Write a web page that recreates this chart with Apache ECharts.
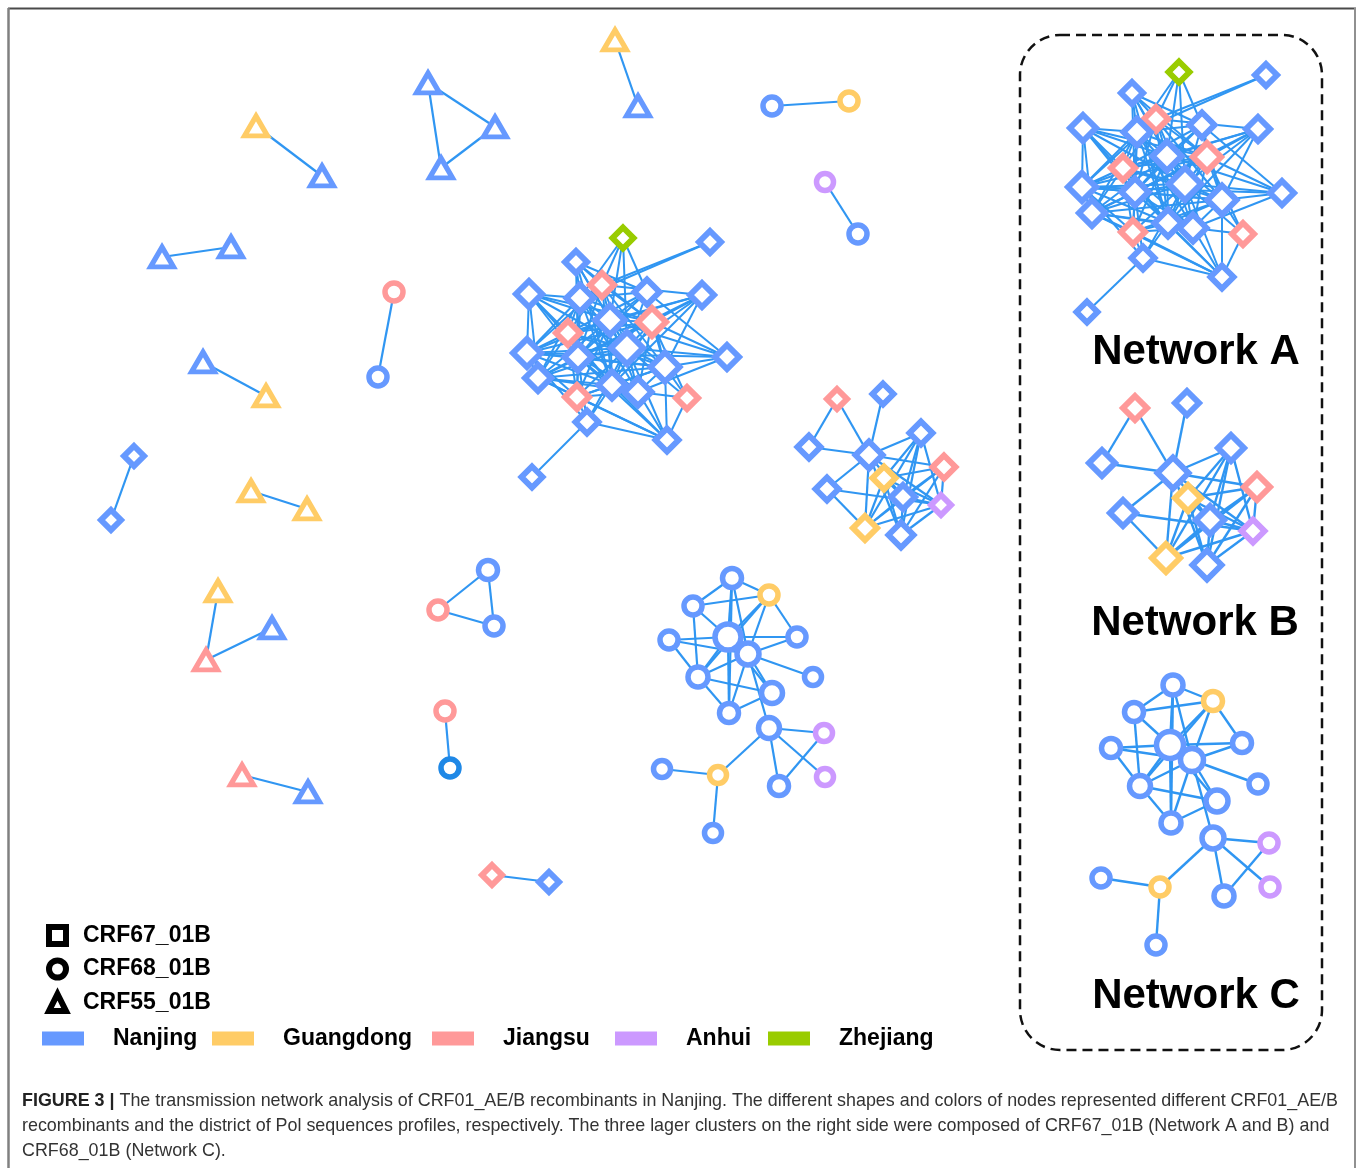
<!DOCTYPE html>
<html>
<head>
<meta charset="utf-8">
<title>Transmission networks of CRF01_AE/B recombinants in Nanjing</title>
<script src="https://cdn.jsdelivr.net/npm/echarts@6/dist/echarts.min.js"></script>
<style>
  html, body { margin: 0; padding: 0; background: #fff; }
  #chart { width: 1360px; height: 1168px; }
</style>
</head>
<body>
<div id="chart"></div>
<script>
// Districts (colour legend) and recombinant forms (shape legend)
const regions = ['Nanjing', 'Guangdong', 'Jiangsu', 'Anhui', 'Zhejiang'];
const subtypes = ['CRF67_01B', 'CRF68_01B', 'CRF55_01B'];

// Node rows: [x, y, size, region index]
// Network A (CRF67_01B), centre of the figure
const netA = [
  [623, 238, 21, 4], [710, 242, 22, 0], [576, 262, 22, 0], [602, 285, 24, 2],
  [529, 294, 26, 0], [580, 298, 27, 0], [647, 292, 25, 0], [702, 295, 24, 0],
  [610, 320, 29, 0], [652, 322, 28, 2], [568, 333, 24, 2], [527, 353, 28, 0],
  [627, 348, 32, 0], [578, 357, 27, 0], [727, 357, 24, 0], [665, 367, 29, 0],
  [538, 378, 26, 0], [612, 385, 27, 0], [638, 392, 27, 0], [577, 397, 24, 2],
  [687, 398, 22, 2], [587, 422, 23, 0], [667, 440, 23, 0], [532, 477, 21, 0]
];
// Network A, enlarged panel on the right (same node order)
const netAPanel = [
  [1179, 72, 21, 4], [1266, 75, 22, 0], [1132, 93, 22, 0], [1156, 119, 24, 2],
  [1083, 128, 26, 0], [1137, 132, 27, 0], [1202, 125, 25, 0], [1258, 129, 24, 0],
  [1167, 156, 29, 0], [1207, 157, 28, 2], [1123, 168, 24, 2], [1082, 187, 28, 0],
  [1185, 184, 32, 0], [1135, 192, 27, 0], [1282, 193, 24, 0], [1222, 200, 29, 0],
  [1092, 213, 26, 0], [1168, 223, 27, 0], [1193, 228, 27, 0], [1133, 232, 24, 2],
  [1243, 234, 22, 2], [1143, 258, 23, 0], [1222, 277, 23, 0], [1087, 312, 21, 0]
];
const netALinks = [
  [0, 5], [0, 8], [0, 12], [0, 6], [0, 3],
  [1, 3], [1, 5],
  [2, 5], [2, 8], [2, 12], [2, 9], [2, 13], [2, 17], [2, 3], [2, 6],
  [4, 11], [4, 5], [4, 10], [4, 13], [4, 12], [4, 17], [4, 8], [4, 16], [4, 9],
  [7, 9], [7, 15], [7, 12], [7, 8], [7, 10], [7, 13], [7, 3], [7, 17],
  [14, 9], [14, 15], [14, 12], [14, 8], [14, 18], [14, 6], [14, 11],
  [20, 15], [20, 12], [20, 9], [20, 18], [20, 22],
  [21, 23], [21, 22], [21, 19], [21, 17], [21, 13], [21, 11], [21, 12],
  [22, 17], [22, 18], [22, 19], [22, 13], [22, 15], [22, 12], [22, 16],
  [3, 5], [3, 8], [3, 9], [3, 10], [3, 12], [3, 13], [3, 15], [3, 17], [3, 11],
  [5, 6], [5, 8], [5, 9], [5, 10], [5, 11], [5, 12], [5, 13], [5, 16], [5, 17], [5, 18], [5, 19],
  [6, 8], [6, 9], [6, 12], [6, 15], [6, 10], [6, 13],
  [8, 9], [8, 10], [8, 11], [8, 12], [8, 13], [8, 15], [8, 16], [8, 17], [8, 18], [8, 19],
  [9, 10], [9, 12], [9, 13], [9, 15], [9, 17], [9, 18], [9, 11], [9, 16],
  [10, 11], [10, 12], [10, 13], [10, 15], [10, 16], [10, 17], [10, 18], [10, 19],
  [11, 12], [11, 13], [11, 16], [11, 17], [11, 19], [11, 15],
  [12, 13], [12, 15], [12, 16], [12, 17], [12, 18], [12, 19],
  [13, 15], [13, 16], [13, 17], [13, 18], [13, 19],
  [15, 17], [15, 18], [15, 19], [15, 16],
  [16, 17], [16, 18], [16, 19],
  [17, 18], [17, 19], [18, 19]
];

// Network B (CRF67_01B)
const netB = [
  [837, 399, 20, 2], [883, 394, 21, 0], [809, 447, 23, 0], [869, 455, 27, 0],
  [921, 433, 23, 0], [944, 467, 23, 2], [884, 478, 23, 1], [827, 489, 23, 0],
  [903, 497, 24, 0], [941, 505, 20, 3], [865, 528, 24, 1], [901, 535, 25, 0]
];
const netBPanel = [
  [1135, 408, 24, 2], [1187, 403, 24, 0], [1102, 463, 26, 0], [1173, 473, 31, 0],
  [1231, 448, 26, 0], [1257, 487, 26, 2], [1188, 498, 26, 1], [1123, 513, 26, 0],
  [1210, 520, 28, 0], [1253, 531, 23, 3], [1166, 558, 28, 1], [1207, 565, 29, 0]
];
const netBLinks = [
  [0, 2], [0, 3], [1, 3], [2, 3], [3, 4], [3, 5], [3, 7], [3, 8], [3, 10], [3, 11], [3, 9],
  [4, 6], [4, 8], [4, 9], [4, 11], [4, 10],
  [5, 10], [5, 8], [5, 9], [5, 11], [5, 6],
  [7, 9], [7, 10],
  [6, 9], [6, 11], [6, 10], [6, 8],
  [8, 10], [8, 11], [8, 9], [9, 10], [9, 11]
];

// Network C (CRF68_01B)
const netC = [
  [732, 578, 19, 0], [769, 595, 18, 1], [693, 606, 18, 0], [728, 637, 26, 0],
  [797, 637, 18, 0], [669, 640, 18, 0], [748, 654, 22, 0], [813, 677, 17, 0],
  [698, 677, 20, 0], [772, 693, 21, 0], [729, 713, 19, 0], [769, 728, 21, 0],
  [824, 733, 17, 3], [825, 777, 17, 3], [662, 769, 17, 0], [718, 775, 17, 1],
  [779, 786, 19, 0], [713, 833, 17, 0]
];
const netCPanel = [
  [1173, 685, 20, 0], [1213, 701, 19, 1], [1134, 712, 19, 0], [1170, 745, 27, 0],
  [1242, 743, 19, 0], [1111, 748, 19, 0], [1192, 760, 23, 0], [1258, 784, 18, 0],
  [1140, 786, 21, 0], [1217, 801, 22, 0], [1171, 823, 20, 0], [1213, 838, 22, 0],
  [1269, 843, 18, 3], [1270, 887, 18, 3], [1101, 878, 18, 0], [1160, 887, 18, 1],
  [1224, 896, 20, 0], [1156, 945, 18, 0]
];
const netCLinks = [
  [0, 1], [0, 2], [0, 3], [0, 6], [0, 10],
  [2, 1], [2, 8], [2, 3],
  [1, 3], [1, 6], [1, 4], [1, 8],
  [5, 3], [5, 6], [5, 8],
  [3, 4], [3, 8], [3, 6], [3, 10], [3, 9],
  [6, 4], [6, 7], [6, 8], [6, 10], [6, 9], [6, 11],
  [8, 9], [8, 10], [10, 9],
  [11, 15], [11, 12], [11, 13], [11, 16], [16, 12],
  [14, 15], [15, 17]
];

// Small clusters: [x, y, size, region index, shape]
const smallNodes = [
  [615, 40, 23, 1, 'triangle'], [638, 106, 23, 0, 'triangle'],
  [428, 83, 23, 0, 'triangle'], [495, 127, 23, 0, 'triangle'], [441, 168, 23, 0, 'triangle'],
  [256, 126, 23, 1, 'triangle'], [322, 176, 23, 0, 'triangle'],
  [162, 257, 23, 0, 'triangle'], [231, 247, 23, 0, 'triangle'],
  [203, 362, 23, 0, 'triangle'], [266, 396, 23, 1, 'triangle'],
  [251, 491, 23, 1, 'triangle'], [307, 509, 23, 1, 'triangle'],
  [218, 591, 23, 1, 'triangle'], [206, 660, 23, 2, 'triangle'], [272, 628, 23, 0, 'triangle'],
  [242, 775, 23, 2, 'triangle'], [308, 792, 23, 0, 'triangle'],
  [394, 292, 18, 2, 'circle'], [378, 377, 18, 0, 'circle'],
  [772, 106, 18, 0, 'circle'], [849, 101, 18, 1, 'circle'],
  [825, 182, 17, 3, 'circle'], [858, 234, 18, 0, 'circle'],
  [438, 610, 18, 2, 'circle'], [488, 570, 19, 0, 'circle'], [494, 626, 18, 0, 'circle'],
  [445, 711, 18, 2, 'circle'], [450, 768, 18, 5, 'circle'],
  [134, 456, 20, 0, 'diamond'], [111, 520, 20, 0, 'diamond'],
  [492, 875, 20, 2, 'diamond'], [549, 882, 20, 0, 'diamond']
];
const smallLinks = [
  [0, 1],
  [2, 3], [2, 4], [3, 4],
  [5, 6], [7, 8], [9, 10], [11, 12],
  [13, 14], [14, 15],
  [16, 17],
  [18, 19], [20, 21], [22, 23],
  [24, 25], [24, 26], [25, 26],
  [27, 28], [29, 30], [31, 32]
];

// Border colours per region; index 5 is the deeper blue of one Nanjing node
const palette = ['#6699ff', '#ffcc66', '#ff9999', '#cc99ff', '#99cc00', '#1f88e6'];
const edgeColor = '#3096f2';
const font = 'Liberation Sans, Arial, Helvetica, sans-serif';

function sizeOf(shape, s) {
  return shape === 'triangle' ? [s, s * 0.86] : s;
}
function borderOf(shape) {
  if (shape === 'diamond') return 6;
  if (shape === 'triangle') return 5;
  return 5.5;
}

function network(id, nodes, links, shape, edgeWidth) {
  return {
    type: 'graph',
    layout: 'none',
    coordinateSystem: 'cartesian2d',
    silent: true,
    animation: false,
    label: { show: false },
    emphasis: { disabled: true },
    data: nodes.map((n, i) => {
      const sh = n[4] || shape;
      return {
        name: id + i,
        value: [n[0], n[1]],
        symbol: sh,
        symbolSize: sizeOf(sh, n[2]),
        itemStyle: { color: '#fff', borderColor: palette[n[3]], borderWidth: borderOf(sh) }
      };
    }),
    links: links.map(l => ({ source: l[0], target: l[1] })),
    lineStyle: { color: edgeColor, width: edgeWidth, opacity: 1, curveness: 0 }
  };
}

const chart = echarts.init(document.getElementById('chart'), null, { renderer: 'canvas' });

const legendSeries = regions.map((r, i) => ({
  type: 'scatter', name: r, data: [], itemStyle: { color: palette[i], opacity: 1 }
})).concat(subtypes.map((s, i) => ({
  type: 'scatter', name: s, data: [], symbol: ['rect', 'circle', 'triangle'][i],
  itemStyle: { color: '#fff', borderColor: '#000', borderWidth: 5, opacity: 1 }
})));

const legendText = { fontFamily: font, fontWeight: 'bold', fontSize: 23, color: '#000' };
const colourLegendLeft = [42, 212, 432, 615, 768];
const colourLegends = regions.map((r, i) => ({
  left: colourLegendLeft[i], top: 1027, padding: 0, selectedMode: false,
  icon: 'rect', itemWidth: 42, itemHeight: 14,
  textStyle: Object.assign({ padding: [0, 0, 0, 24] }, legendText),
  data: [{ name: r, itemStyle: { color: palette[i], borderWidth: 0, opacity: 1 } }]
}));
const shapeLegend = {
  left: 46, top: 924, orient: 'vertical', padding: 0, selectedMode: false,
  itemWidth: 17, itemHeight: 17, itemGap: 10.5,
  textStyle: Object.assign({ padding: [0, 0, 0, 12] }, legendText),
  data: subtypes.map((s, i) => ({
    name: s, icon: ['rect', 'circle', 'triangle'][i],
    itemStyle: { color: '#fff', borderColor: '#000', borderWidth: 6, opacity: 1 }
  }))
};

const option = {
  animation: false,
  backgroundColor: '#fff',
  grid: { left: 0, right: 0, top: 0, bottom: 0 },
  xAxis: { type: 'value', min: 0, max: 1360, show: false },
  yAxis: { type: 'value', min: 0, max: 1168, inverse: true, show: false },
  title: {
    left: 22, top: 1089, padding: 0,
    text: '{b|FIGURE 3 |} The transmission network analysis of CRF01_AE/B recombinants in Nanjing. The different shapes and colors of nodes represented different CRF01_AE/B\n' +
          'recombinants and the district of Pol sequences profiles, respectively. The three lager clusters on the right side were composed of CRF67_01B (Network A and B) and\n' +
          'CRF68_01B (Network C).',
    textStyle: {
      fontFamily: font, fontSize: 17.9, fontWeight: 'normal', color: '#333', lineHeight: 24.7,
      rich: { b: { fontFamily: font, fontSize: 17.9, fontWeight: 'bold', color: '#222', lineHeight: 24.7 } }
    }
  },
  legend: colourLegends.concat([shapeLegend]),
  graphic: [
    { type: 'line', shape: { x1: 8, y1: 8.5, x2: 1356, y2: 8.5 }, style: { stroke: '#4a4a4a', lineWidth: 2 } },
    { type: 'line', shape: { x1: 8.5, y1: 8, x2: 8.5, y2: 1168 }, style: { stroke: '#808080', lineWidth: 2.5 } },
    { type: 'line', shape: { x1: 1355, y1: 8, x2: 1355, y2: 1168 }, style: { stroke: '#909090', lineWidth: 2 } },
    { type: 'rect', z: -1, shape: { x: 1020, y: 35, width: 302, height: 1015, r: 40 },
      style: { fill: 'none', stroke: '#111', lineWidth: 2.5, lineDash: [10, 6] } },
    { type: 'text', x: 1196, y: 352, style: { text: 'Network A', fontFamily: font, fontWeight: 'bold', fontSize: 42, fill: '#000', align: 'center', verticalAlign: 'middle' } },
    { type: 'text', x: 1195, y: 623, style: { text: 'Network B', fontFamily: font, fontWeight: 'bold', fontSize: 42, fill: '#000', align: 'center', verticalAlign: 'middle' } },
    { type: 'text', x: 1196, y: 996, style: { text: 'Network C', fontFamily: font, fontWeight: 'bold', fontSize: 42, fill: '#000', align: 'center', verticalAlign: 'middle' } }
  ],
  series: [
    network('a', netA, netALinks, 'diamond', 2),
    network('ap', netAPanel, netALinks, 'diamond', 2),
    network('b', netB, netBLinks, 'diamond', 2.2),
    network('bp', netBPanel, netBLinks, 'diamond', 2.4),
    network('c', netC, netCLinks, 'circle', 2.2),
    network('cp', netCPanel, netCLinks, 'circle', 2.4),
    network('s', smallNodes, smallLinks, 'circle', 2.2)
  ].concat(legendSeries)
};

chart.setOption(option);
</script>
</body>
</html>
